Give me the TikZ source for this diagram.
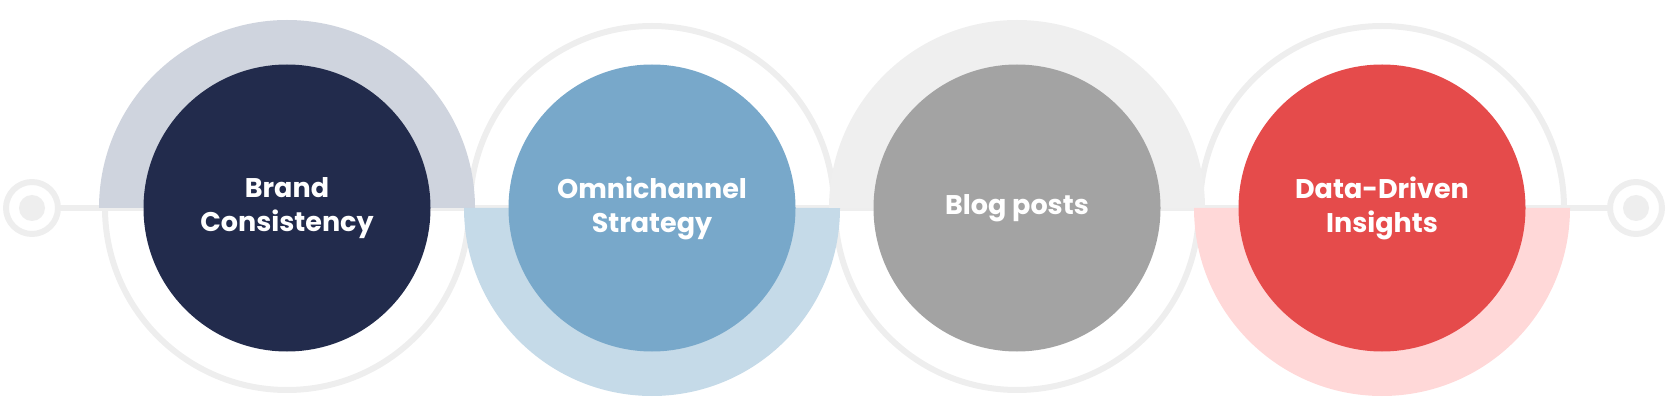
\documentclass[tikz,border=0pt]{standalone}
\usepackage{fontspec}
\setmainfont{Poppins}[BoldFont={* Bold}]
\begin{document}
\begin{tikzpicture}[x=1pt,y=1pt,
  ring/.style={draw=ringc,line width=6pt},
  inner/.style={circle,minimum size=287pt,inner sep=0pt,text=white,font=\bfseries\fontsize{27}{34}\selectfont,align=center}]
\definecolor{ringc}{HTML}{EEEEEE}
\definecolor{c1}{HTML}{222B4C}\definecolor{h1}{HTML}{CFD4DE}
\definecolor{c2}{HTML}{78A8CA}\definecolor{h2}{HTML}{C5DAE8}
\definecolor{c3}{HTML}{A3A3A3}\definecolor{h3}{HTML}{EFEFEF}
\definecolor{c4}{HTML}{E54B4B}\definecolor{h4}{HTML}{FFD8D8}
\useasboundingbox (0,0) rectangle (1668,418);
\def\cy{210}
\coordinate (L) at (32,\cy);
\coordinate (R) at (1636,\cy);
\draw[draw=ringc,line width=6pt] (L) -- (R);
\foreach \p in {L,R}{
  \fill[white] (\p) circle (27);
  \draw[ring] (\p) circle (26);
  \fill[ringc] (\p) circle (13);
}
\foreach \x in {287,652,1017,1382}{ \draw[ring] (\x,\cy) circle (182); }
\fill[h1] (287,\cy) ++(-188,0) arc[start angle=180,end angle=0,radius=188] -- cycle;
\fill[h2] (652,\cy) ++(-188,0) arc[start angle=180,end angle=360,radius=188] -- cycle;
\fill[h3] (1017,\cy) ++(-188,0) arc[start angle=180,end angle=0,radius=188] -- cycle;
\fill[h4] (1382,\cy) ++(-188,0) arc[start angle=180,end angle=360,radius=188] -- cycle;
\node[inner,fill=c1] (a) at (287,\cy) {Brand\\Consistency};
\node[inner,fill=c2] (b) at (652,\cy) {Omnichannel\\Strategy};
\node[inner,fill=c3] (c) at (1017,\cy) {Blog posts};
\node[inner,fill=c4] (d) at (1382,\cy) {Data-Driven\\Insights};
\end{tikzpicture}
\end{document}
